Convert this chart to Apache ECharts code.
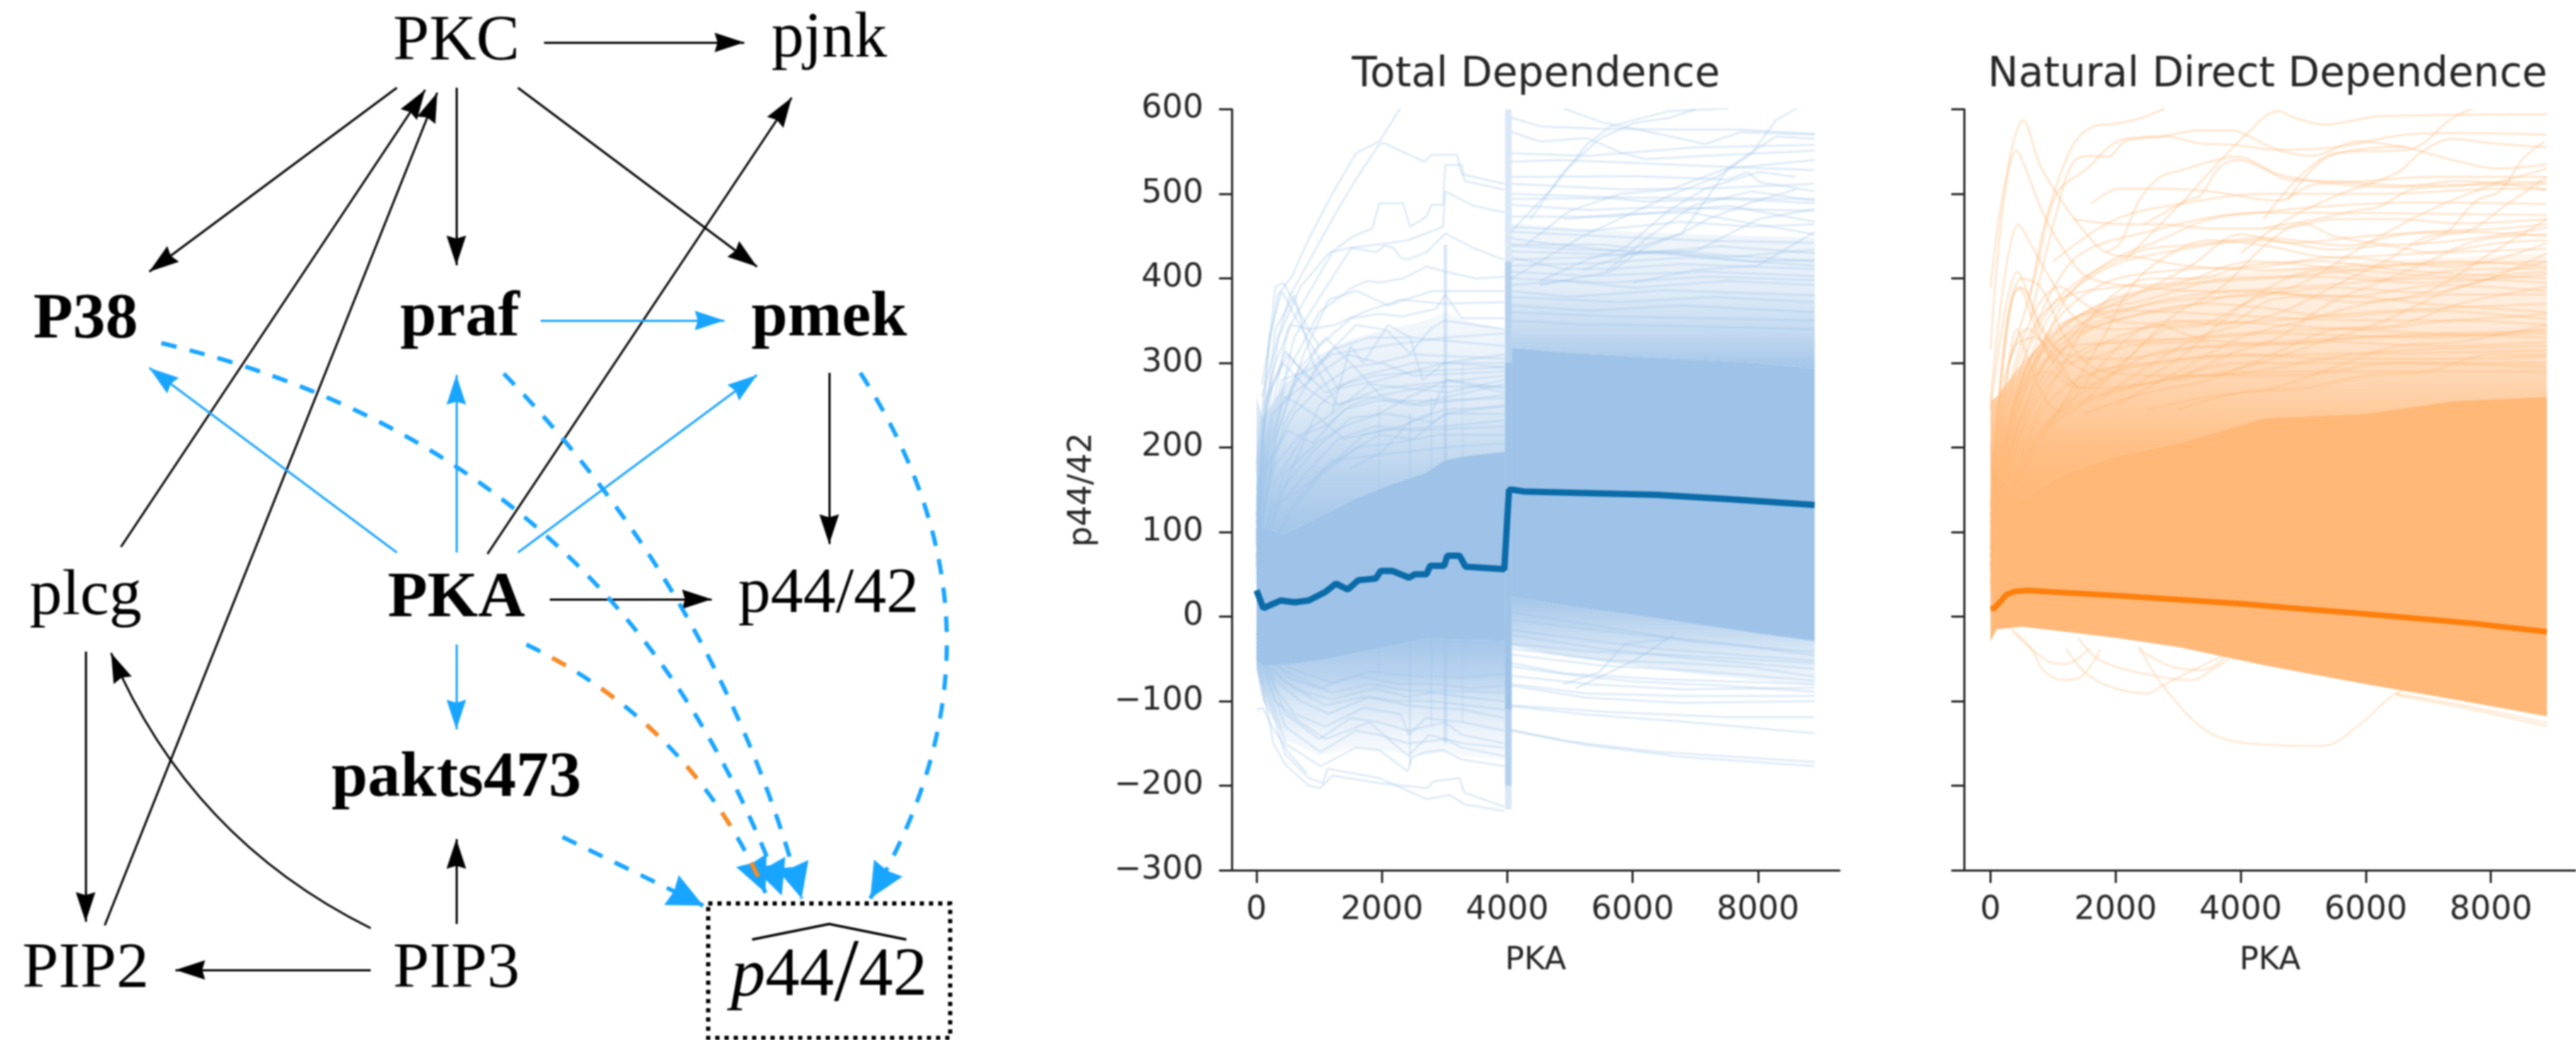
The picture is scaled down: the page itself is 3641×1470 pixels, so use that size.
<!DOCTYPE html>
<html><head><meta charset="utf-8">
<style>html,body{margin:0;padding:0;background:#fff}#c{width:3641px;height:1470px;filter:blur(0.8px)}</style>
<script src="https://cdn.jsdelivr.net/npm/echarts@6/dist/echarts.min.js"></script>
</head><body><div id="c"></div>
<script>
// ---------- diagram data ----------
const nodeNames = ['PKC','pjnk','P38','praf','pmek','plcg','PKA','p44/42','pakts473','PIP2','PIP3','phat'];
const boldNodes = ['P38','praf','pmek','PKA','pakts473'];
const nodeSpots = [[645,60],[1172,56],[121,453],[650,450],[1172,450],[121,844],[645,847],[1171,841],[645,1101],[121,1371],[645,1371],[1172,1381]];
const edgesBlack = [
 [769,60,1052,60,0],[561,124,211,384,0],[645,124,645,375,0],[732,124,1070,377,0],
 [171,773,601,127,0],[148,1308,618,131,0],[689,783,1119,138,0],[1172,527,1172,769,0],
 [777,847,1006,847,0],[121,921,121,1303,0],[524,1312,157,923,0.185],[645,1306,645,1186,0],[524,1371,248,1371,0]];
const edgesBlue = [[764,453,1024,453,0],[561,781,211,520,0],[645,781,645,530,0],[732,781,1070,530,0],[645,911,645,1031,0]];
const edgesDashed = [[228,485,1105,1266,0.27],[712,528,1133,1270,0.13],[1216,527,1230,1270,0.31],[744,911,1082,1262,0.185],[795,1183,994,1280,0]];
const edgesOrange = [[744,911,1082,1262,0.185]];
const boxOutline = [[1001,1277],[1343,1277],[1343,1467],[1001,1467],[1001,1277]];
const hatOutline = [[1063,1328],[1172,1306],[1281,1328]];

// ---------- chart axes ----------
const xTicks = [0,2000,4000,6000,8000];
const titles = ['Total Dependence','Natural Direct Dependence'];

// ---------- Total Dependence ----------
const totalMean = [[0,31],[109,10],[383,19],[609,17],[834,19],[1097,29],[1266,39],[1454,32],[1623,43],[1905,45],[1980,54],[2168,54],[2431,46],[2525,50],[2712,50],[2769,60],[2994,60],[3043,72],[3239,72],[3333,59],[3953,56],[4028,150],[4084,150],[4260,148],[6400,144],[7530,139],[8904,132]];
const totalBandLeftX = [0,100,450,1000,1585,2100,2700,3000,3350,3965];
const totalBandLeftLow = [-52,-58,-57,-52,-43,-36,-27,-27,-28,-29];
const totalBandLeftHigh = [130,105,98,118,140,155,170,185,190,195];
const totalLeftFaintHigh = [260,235,275,310,330,340,350,360,350,340];
const totalLeftFaintLow = [-62,-100,-145,-165,-155,-160,-165,-160,-165,-170];
const totalBandRightX = [4070,5000,6000,7000,8000,8904];
const totalBandRightLow = [23,12,2,-9,-20,-29];
const totalBandRightHigh = [318,312,308,304,300,294];
const totalRightFaintHigh = [465,460,455,452,450,448];
const totalRightFaintLow = [-35,-48,-58,-68,-75,-82];
// vertical streaks: from x, to x, low, high
const totalStreaks = [[2985,3040,-150,440,.4],[1940,1975,-70,250,.2],[2430,2465,-175,240,.3],[2770,2800,-130,260,.28],[3270,3300,-125,300,.22],[3965,4070,-228,600,.4],[3965,4070,-200,420,.6],[3965,4070,-110,300,1]];
const totalUpperLeft = [
 [[83,274],[346,381],[571,403],[834,447],[1209,500],[1585,548],[1960,562],[2300,602]],
 [[0,180],[300,390],[430,395],[650,365],[830,340],[1000,320]],
 [[83,260],[535,380],[1209,470],[1585,517],[1960,559],[2040,560],[2675,538],[2787,546],[3200,546],[3275,523],[3950,512]],
 [[0,170],[350,330],[700,390],[1134,428],[1547,450],[1848,459],[1960,489],[2336,489],[2449,461],[2712,473],[2787,487],[2975,487],[3012,534],[3275,534],[3320,515],[3950,505]],
 [[0,150],[500,340],[1209,431],[1472,436],[1810,439],[2148,442],[2411,445],[2975,461],[3012,503],[3460,486],[3950,478]],
 [[0,140],[600,330],[1510,436],[1923,431],[2035,439],[2186,436],[2298,425],[2411,422],[2712,431],[3012,453],[3460,436],[3950,422]],
 [[0,120],[500,290],[1000,360],[1547,390],[1770,397],[1960,395],[2336,400],[2712,414],[3012,408],[3500,400],[3950,402]],
 [[0,110],[400,250],[1000,320],[1510,353],[1960,358],[2336,355],[2862,364],[3012,381],[3275,353],[3950,353]],
 [[0,100],[450,230],[1000,300],[1585,345],[2073,339],[2449,311],[2787,341],[3000,350],[3950,340]],
 [[0,90],[150,250],[458,314],[834,280],[1209,316],[1800,330],[2500,330],[3950,320]],
 [[0,60],[120,220],[300,340],[600,380],[900,300],[1300,250],[2000,270],[3950,285]],
 [[0,120],[200,330],[400,385],[800,330],[1300,270],[2000,280],[3000,300],[3950,295]],
 [[0,80],[150,200],[400,280],[800,290],[1200,310],[2000,320],[3000,330],[3950,335]],
 [[0,70],[250,190],[600,240],[1000,270],[1500,295],[2000,300],[2500,285],[3950,290]],
 [[0,55],[300,160],[800,220],[1200,240],[1800,275],[2400,270],[3050,265],[3950,280]],
 [[0,90],[100,170],[500,220],[900,205],[1400,245],[1900,255],[2600,255],[3950,258]],
 [[0,60],[400,150],[900,195],[1500,235],[2100,240],[2800,230],[3050,240],[3950,240]],
 [[0,50],[350,130],[800,170],[1300,210],[1900,225],[2500,220],[3950,225]],
 [[0,40],[500,120],[1000,165],[1600,200],[2200,205],[2900,215],[3950,215]],
 [[0,45],[600,135],[1200,185],[1800,190],[2400,195],[3000,200],[3950,205]],
 [[0,70],[200,200],[450,260],[700,250],[1000,235],[1400,210],[2000,220],[3000,225],[3950,232]],
 [[0,100],[250,275],[500,310],[750,290],[1100,265],[1700,285],[2500,300],[3950,300]],
 [[1200,240],[1500,320],[1700,300],[2100,345],[2450,330],[2650,280],[3000,300],[3950,310]],
 [[0,65],[300,210],[650,290],[1100,330],[1500,300],[2000,260],[2600,250],[3950,262]],
 [[0,85],[300,180],[700,215],[1100,225],[1500,250],[2000,262],[2700,272],[3950,272]],
 [[0,75],[450,170],[950,205],[1400,225],[1950,240],[2500,262],[3050,280],[3950,270]],
 [[0,60],[250,130],[700,150],[1200,180],[1700,215],[2300,225],[3000,245],[3950,248]],
 [[0,130],[180,260],[420,300],[800,270],[1200,250],[1800,260],[2450,250],[3950,275]],
 [[0,110],[130,250],[300,300],[550,345],[850,340],[1250,345],[1700,360],[2300,375],[2950,370],[3950,372]],
 [[0,85],[350,220],[750,310],[1150,375],[1600,385],[2100,368],[2800,385],[3950,385]],
 [[0,95],[260,240],[600,265],[1050,290],[1450,310],[1950,300],[2500,310],[3950,305]],
 [[0,50],[400,145],[1000,250],[1400,275],[1900,285],[2600,290],[3950,295]],
 [[1500,175],[2000,195],[2440,230],[2780,240],[3020,280],[3950,265]],
 [[1000,170],[1500,195],[1960,215],[2500,210],[3000,240],[3950,250]]];
const totalLowerLeft = [
 [[0,-45],[270,-150],[458,-175],[834,-200],[1020,-203],[1209,-188],[1960,-197],[2712,-203],[2825,-195],[3237,-191],[3312,-208],[3950,-225]],
 [[0,-50],[458,-163],[834,-191],[1058,-197],[1134,-180],[1960,-191],[2712,-216],[3087,-211],[3312,-222],[3950,-230]],
 [[0,-40],[458,-150],[1020,-177],[1585,-155],[1960,-158],[2411,-183],[2487,-166],[2712,-160],[2975,-158],[3275,-169],[3950,-177]],
 [[0,-35],[458,-130],[1020,-160],[1585,-135],[1960,-140],[2411,-150],[2712,-148],[3012,-145],[3275,-155],[3950,-165]],
 [[0,-30],[458,-115],[1000,-145],[1500,-120],[1960,-125],[2411,-135],[2712,-130],[3012,-125],[3275,-140],[3950,-150]],
 [[0,-30],[300,-85],[600,-115],[1100,-130],[1700,-108],[2300,-115],[2430,-140],[2700,-120],[3300,-125],[3950,-135]],
 [[0,-25],[300,-75],[700,-100],[1150,-115],[1800,-95],[2400,-105],[2800,-108],[3300,-110],[3950,-120]],
 [[0,-25],[400,-75],[800,-90],[1200,-98],[1900,-85],[2400,-95],[2800,-90],[3300,-95],[3950,-100]],
 [[0,-20],[500,-72],[1000,-85],[1600,-70],[2300,-80],[2900,-80],[3400,-85],[3950,-82]],
 [[0,-15],[500,-60],[1200,-78],[1800,-65],[2500,-70],[3300,-72],[3950,-68]],
 [[0,-110],[100,-108],[250,-130],[500,-160],[800,-185]],
 [[0,-20],[200,-60],[600,-85],[1100,-105],[1700,-95],[2300,-100],[2800,-100],[3950,-110]],
 [[0,-18],[250,-55],[600,-70],[1200,-90],[1800,-80],[2500,-88],[3300,-88],[3950,-90]],
 [[0,-35],[300,-100],[700,-125],[1100,-145],[1800,-125],[2420,-165],[2750,-140],[3300,-150],[3950,-155]]];
const totalUpperRight = [
 [[4898,601],[5538,584],[6100,576],[7157,559],[7722,573],[8904,570]],
 [[4070,456],[4710,506],[5275,559],[5650,580],[6590,598],[7533,601]],
 [[4370,470],[4898,526],[5463,565],[6027,584],[6600,590],[7000,600]],
 [[4070,400],[5200,450],[6590,498],[7345,520],[7900,548],[8285,587],[8620,601]],
 [[4070,440],[5500,440],[6027,436],[6780,453],[7533,531],[8285,568],[8904,565]],
 [[4070,590],[4522,580],[5463,577],[6780,576],[7722,576],[8904,571]],
 [[4070,573],[4522,562],[5275,566],[5840,548],[6215,541],[7157,545],[8904,551]],
 [[4070,538],[4898,540],[6780,534],[8904,528]],
 [[4070,520],[6027,521],[7533,517],[7834,526],[8022,514],[8904,503]],
 [[4070,500],[5650,496],[6780,495],[8904,494]],
 [[4070,494],[5650,495],[6215,491],[7533,494],[8904,489]],
 [[4070,487],[5275,481],[6400,484],[8904,480]],
 [[4070,473],[5650,473],[7533,486],[8904,467]],
 [[4070,461],[5275,456],[6780,467],[7900,461],[8904,464]],
 [[4070,447],[4898,439],[6027,431],[7533,425],[8904,434]],
 [[4070,439],[5090,434],[6780,431],[8904,420]],
 [[4070,422],[5275,425],[6400,431],[7900,420],[8904,422]],
 [[4070,425],[4898,411],[5650,411],[6780,417],[8904,411]],
 [[4070,408],[5275,403],[7157,408],[8904,403]],
 [[4070,392],[4898,397],[6027,389],[7533,397],[8904,392]],
 [[4522,392],[5650,408],[6180,436],[6780,453],[7200,470],[7900,490],[8600,505]],
 [[4522,397],[5275,422],[5877,436],[6590,481],[7157,506],[8022,526],[8600,520]],
 [[5575,408],[6215,447],[6970,486],[7900,503],[8904,492]],
 [[4070,455],[5500,450],[7000,445],[8904,442]],
 [[4070,432],[5800,428],[7400,438],[8904,430]],
 [[4070,415],[5400,418],[6900,425],[8904,415]],
 [[4070,400],[5600,395],[7200,402],[8904,398]],
 [[4070,385],[5000,378],[6500,386],[8904,380]],
 [[4070,378],[5800,372],[7300,378],[8904,372]],
 [[4070,368],[5300,362],[6800,368],[8904,360]],
 [[4070,360],[5700,355],[7600,352],[8904,350]],
 [[4070,350],[5100,346],[6600,344],[8904,340]],
 [[4070,512],[5900,505],[7400,507],[8904,512]],
 [[4070,548],[5300,545],[7000,555],[8904,558]],
 [[4900,470],[5800,476],[6900,478],[8904,452]],
 [[4300,440],[5000,480],[5800,500],[6600,505],[7500,530],[8904,540]],
 [[5200,410],[6000,430],[7000,432],[8000,470],[8904,482]],
 [[6000,395],[7000,410],[8000,415],[8904,455]]];
const totalLowerRight = [
 [[4070,-135],[4898,-147],[6400,-160],[8904,-172]],
 [[4070,-134],[5275,-152],[6780,-166],[8904,-177]],
 [[4070,-106],[5275,-116],[6780,-124],[8904,-138]],
 [[4070,-105],[5650,-113],[7533,-119],[8904,-119]],
 [[4070,-82],[5275,-96],[6780,-102],[8904,-100]],
 [[4070,-80],[5275,-91],[6780,-94],[8904,-94]],
 [[4070,-59],[4898,-68],[6027,-77],[7533,-82],[8904,-89]],
 [[4070,-55],[4898,-67],[6400,-74],[8904,-80]],
 [[4070,-38],[5650,-52],[6780,-55],[7900,-60],[8904,-71]],
 [[4070,-32],[5275,-41],[6780,-46],[8904,-55]],
 [[4070,-16],[4898,-24],[6400,-38],[8904,-52]],
 [[4070,-4],[5650,-18],[7533,-32],[8904,-46]],
 [[4898,-80],[5463,-66],[5877,-32],[6560,-27]],
 [[5090,-85],[6027,-52],[6670,-21]],
 [[4070,5],[5500,-12],[7000,-30],[8904,-42]],
 [[4070,-22],[5500,-38],[7000,-50],[8904,-62]],
 [[4070,-45],[5500,-58],[7000,-64],[8904,-76]],
 [[4070,-70],[5300,-80],[6800,-86],[8904,-84]]];

// ---------- Natural Direct Dependence ----------
const naturalMean = [[0,9],[60,10],[150,17],[250,26],[400,30],[600,31],[1000,29],[2189,24],[3000,20],[4025,15],[5000,9],[5864,4],[7700,-8],[8897,-18]];
const naturalBandX = [0,100,500,1200,2000,3000,4400,6000,7400,8896];
const naturalBandLow = [-29,-15,-12,-18,-25,-36,-58,-80,-98,-118];
const naturalBandHigh = [213,170,140,170,190,205,235,240,255,260];
const naturalFaintHigh = [255,260,300,350,380,400,410,420,425,430];
const naturalUpper = [
 [[0,389],[200,500],[526,587],[790,534],[1054,501],[1318,473],[1846,431],[2374,425],[3127,415],[4400,410],[6000,415],[8896,420]],
 [[0,316],[413,551],[865,473],[1280,422],[1600,400],[2400,390],[3500,385],[5000,390],[7000,400],[8896,395]],
 [[0,255],[450,464],[676,436],[977,397],[1400,350],[2000,340],[3000,345],[4500,350],[6000,360],[8896,370]],
 [[0,244],[430,408],[563,389],[800,340],[1200,310],[2000,305],[3500,320],[6000,330],[8896,335]],
 [[639,381],[865,464],[1129,526],[1356,562],[1620,579],[1997,583],[2374,589],[2787,601]],
 [[639,353],[1054,478],[1318,537],[1620,545],[1884,544],[2148,562],[2750,568],[3316,575],[3882,575],[4071,570],[4600,552],[5126,545],[5880,562],[6634,555],[7388,540],[8142,530],[8896,535]],
 [[300,300],[700,400],[1054,500],[1544,530],[1900,556],[2148,565],[2800,568],[3316,560],[3882,558],[4600,552],[5500,555],[6634,570],[7388,572],[8896,570]],
 [[1620,489],[2073,506],[2750,506],[3505,503],[4600,492],[5126,510],[6000,515],[7000,520],[8896,520]],
 [[1846,431],[2073,442],[2374,492],[2712,520],[3052,528],[3656,541],[3958,544],[4372,531],[4748,517],[5500,515],[6634,510],[8896,512]],
 [[2148,422],[3127,495],[3505,526],[4071,569],[4600,598],[4860,590],[5353,582],[6257,592],[8896,594]],
 [[2450,464],[3127,492],[3354,498],[3656,531],[3958,540],[4600,523],[5500,512],[6500,508],[7500,515],[8896,505]],
 [[1318,470],[2148,464],[2750,464],[3505,459],[4600,459],[5500,470],[6500,470],[7500,465],[8896,470]],
 [[4372,470],[5503,548],[6709,553],[7388,590],[7690,600]],
 [[4748,492],[5428,545],[6634,556]],
 [[4000,430],[4748,470],[5600,500],[6500,525],[6900,550],[7388,565],[8000,560],[8896,555]],
 [[6800,440],[7300,455],[7766,492],[8142,503],[8519,542],[8858,562]],
 [[4372,460],[5200,470],[5880,481],[6190,484],[6784,506],[7388,509],[8142,514],[8896,514]],
 [[1000,420],[2000,470],[3200,490],[4372,500],[6257,500],[8142,506],[8896,505]],
 [[500,300],[1300,420],[2500,455],[4372,478],[8896,475]],
 [[300,250],[1000,370],[2300,430],[3300,440],[4372,448],[5692,439],[6634,453],[8142,459],[8896,464]],
 [[200,200],[900,350],[1800,410],[3100,435],[4372,445],[5503,434],[6257,439],[7011,431],[8142,442],[8896,445]],
 [[100,120],[800,320],[1700,390],[3000,410],[4372,414],[5503,425],[7388,414],[8896,442]],
 [[150,170],[700,300],[1500,360],[2800,390],[4372,400],[5600,408],[7388,420],[8896,414]],
 [[100,110],[600,260],[1300,340],[2600,370],[4372,381],[5503,389],[7011,383],[8142,403],[8896,408]],
 [[250,180],[800,280],[1600,340],[3000,365],[4372,383],[5880,372],[7388,381],[8896,381]],
 [[120,130],[500,240],[1100,320],[2000,350],[3500,370],[4400,365],[5500,355],[7000,362],[8896,352]],
 [[0,50],[300,170],[700,250],[1300,300],[2200,335],[3400,350],[4600,345],[6000,340],[7500,350],[8896,345]],
 [[0,70],[250,190],[650,280],[1300,320],[2500,325],[4000,335],[5500,340],[7000,335],[8896,330]],
 [[0,40],[350,150],[900,230],[1700,275],[2800,315],[4000,320],[5500,325],[7000,320],[8896,325]],
 [[0,60],[200,170],[500,270],[900,290],[1400,270],[2000,290],[3200,305],[5000,310],[7000,312],[8896,315]],
 [[0,90],[300,300],[600,340],[1000,310],[1500,270],[2500,275],[4000,300],[6000,300],[8896,300]],
 [[0,120],[250,330],[500,400],[800,390],[1200,330],[1800,290],[3000,285],[5000,290],[8896,290]],
 [[0,80],[300,270],[700,360],[1100,390],[1500,370],[2000,350],[2700,345],[3400,330],[4500,335],[7000,330],[8896,340]],
 [[800,210],[1300,270],[1800,330],[2300,395],[2900,430],[3500,445],[4300,440],[5500,425],[7000,430],[8896,435]],
 [[600,220],[1100,290],[1800,370],[2600,400],[3300,400],[4100,415],[5300,420],[6500,410],[8896,400]],
 [[900,220],[1500,280],[2100,300],[2900,355],[3700,390],[4400,440],[5000,465],[5500,450],[6500,440],[8896,460]],
 [[1300,240],[2000,290],[2800,340],[3400,345],[4200,375],[5000,395],[6000,440],[7000,480],[8000,510],[8896,530]],
 [[1800,260],[2500,295],[3300,330],[4000,345],[4800,365],[5600,395],[6300,420],[7000,450],[7600,455],[8300,490],[8896,520]],
 [[2000,250],[3000,290],[4000,330],[5000,350],[6000,370],[7000,385],[8000,430],[8896,470]],
 [[1500,240],[2500,265],[3500,280],[4500,310],[5500,340],[6500,345],[7500,370],[8896,390]],
 [[2500,245],[3500,260],[4500,270],[5500,295],[6500,320],[7500,325],[8896,345]],
 [[3000,245],[4000,265],[5000,270],[6000,285],[7000,290],[8000,310],[8896,310]],
 [[0,100],[180,260],[400,320],[700,330],[1100,300],[1600,305],[2200,320],[3500,325]],
 [[0,55],[120,180],[250,270],[420,340],[620,300],[950,250],[1300,240]],
 [[0,70],[300,230],[800,310],[1600,345],[2800,375],[4200,385],[5600,378],[7200,392],[8896,385]],
 [[0,60],[200,190],[600,300],[1400,355],[2500,375],[3800,400],[5200,402],[6800,395],[8896,405]],
 [[0,80],[400,290],[1000,370],[2000,390],[3000,395],[4200,420],[5800,410],[7500,402],[8896,420]],
 [[100,140],[500,280],[1100,345],[2200,362],[3500,358],[5000,352],[7000,350],[8896,358]],
 [[0,45],[450,210],[1000,290],[1900,325],[3100,328],[4500,322],[6200,332],[8896,338]],
 [[0,40],[300,140],[800,240],[1500,285],[2600,300],[4000,310],[5500,305],[7500,305],[8896,308]],
 [[0,35],[400,160],[1000,235],[1700,262],[2800,280],[4200,290],[6000,312],[8896,320]],
 [[0,30],[500,170],[1200,240],[2200,270],[3400,285],[4800,285],[6500,300],[8896,295]],
 [[0,130],[180,300],[350,380],[500,388],[800,345],[1200,305],[1800,280]],
 [[0,110],[150,260],[300,360],[450,390],[700,345],[1000,300],[1400,270]],
 [[1200,245],[1800,300],[2400,340],[3000,350],[3700,345],[4500,375],[5500,380],[7000,370],[8896,360]],
 [[2200,270],[3000,305],[3800,355],[4600,395],[5300,410],[6300,400],[7500,410],[8896,412]],
 [[3000,280],[3800,310],[4600,330],[5400,370],[6200,395],[7000,420],[7800,445],[8896,452]],
 [[3500,285],[4300,300],[5300,325],[6300,350],[7300,385],[8000,400],[8896,430]],
 [[1000,300],[1600,355],[2300,380],[3200,415],[4000,452],[4800,442],[6000,450],[7500,455],[8896,450]],
 [[700,290],[1200,375],[1900,420],[2700,445],[3500,470],[4300,478],[5300,485],[6800,490],[8896,488]]];
const naturalLower = [
 [[2370,-35],[2738,-80],[3412,-133],[4025,-149],[5312,-153],[5864,-130],[6477,-91],[6900,-82]],
 [[300,-12],[654,-38],[837,-63],[1143,-75],[1450,-71],[1757,-38]],
 [[347,-18],[899,-52],[1206,-56],[1574,-38]],
 [[1206,-38],[1512,-66],[1880,-82],[2493,-91],[2738,-82],[3167,-66],[3720,-46]],
 [[1400,-25],[1757,-52],[2677,-71],[3229,-75],[3536,-63],[3904,-46]],
 [[2370,-38],[2922,-60],[3412,-63],[3780,-46]],
 [[6477,-93],[7703,-110],[8897,-130]],
 [[6477,-91],[7703,-107],[8897,-126]]];

// ---------- helpers ----------
const BLUE='#9fc3e8', ORANGE='#ffb878', DARKBLUE='#0a6ba9', DARKORANGE='#fe7f0c', INK='#262626';
const BLUE_RGB='159,195,232', ORANGE_RGB='255,184,120';
const EDGE_BLUE='#18a5ff', EDGE_ORANGE='#ff8a1c';
const headBlack='path://M0 0L0 0M200 200L200 200M100 100L133 200L100 190L67 200Z';
const headWide='path://M0 0L0 0M200 200L200 200M100 100L147 200L100 192L53 200Z';
function fade(rgb,stops){
  return new echarts.graphic.LinearGradient(0,0,0,1,stops.map(s=>({offset:s[0],color:'rgba('+rgb+','+s[1]+')'})));
}
function band(axis,xs,lo,hi,fill,opacity){
  return [{type:'custom',coordinateSystem:'cartesian2d',xAxisIndex:axis,yAxisIndex:axis,silent:true,animation:false,clip:true,
    data:xs.map((x,i)=>[x,lo[i],hi[i]]),encode:{x:0,y:[1,2]},
    renderItem:(params,api)=>{
      if(params.dataIndex!==0) return null;
      const top=xs.map((x,i)=>api.coord([x,hi[i]]));
      const bot=xs.map((x,i)=>api.coord([x,lo[i]])).reverse();
      return {type:'polygon',shape:{points:top.concat(bot)},style:{fill,opacity:opacity==null?1:opacity}};
    }}];
}
function faint(axis,lines,color,smooth){
  return lines.map(d=>({type:'line',xAxisIndex:axis,yAxisIndex:axis,data:d,showSymbol:false,silent:true,animation:false,
    smooth:smooth?0.35:false,lineStyle:{color,width:3}}));
}
function edgeSeries(list,color,width,head,size,dash,offset){
  return {type:'lines',coordinateSystem:'cartesian2d',xAxisIndex:2,yAxisIndex:2,silent:true,animation:false,clip:false,
    symbol:head?['none',head]:'none',symbolSize:size||0,
    lineStyle:{color,width,opacity:1,type:dash||'solid',dashOffset:offset||0},
    data:list.map(e=>({coords:[[e[0],e[1]],[e[2],e[3]]],lineStyle:{curveness:e[4]}}))};
}
function outline(coords,width,dash){
  return {type:'lines',coordinateSystem:'cartesian2d',xAxisIndex:2,yAxisIndex:2,polyline:true,silent:true,animation:false,clip:false,
    lineStyle:{color:'#000',width,opacity:1,type:dash||'solid'},data:[{coords}]};
}
const minusSign=v=>String(v).replace('-','\u2212');
function xAxisFor(idx,min,max){
  return {type:'value',gridIndex:idx,min,max,name:'PKA',nameLocation:'middle',nameGap:106,
    nameTextStyle:{fontFamily:'DejaVu Sans',fontSize:45,color:INK},
    axisLine:{onZero:false,lineStyle:{color:INK,width:3}},
    axisTick:{show:true,length:18,lineStyle:{color:INK,width:3},customValues:xTicks},
    axisLabel:{fontFamily:'DejaVu Sans',fontSize:46,color:INK,margin:34,customValues:xTicks,formatter:v=>String(v)},splitLine:{show:false}};
}
function yAxisFor(idx,showLabels){
  return {type:'value',gridIndex:idx,min:-300,max:600,interval:100,name:showLabels?'p44/42':'',nameLocation:'middle',nameGap:188,
    nameTextStyle:{fontFamily:'DejaVu Sans',fontSize:46,color:INK},
    axisLine:{show:true,onZero:false,lineStyle:{color:INK,width:3}},
    axisTick:{show:true,length:18,lineStyle:{color:INK,width:3}},
    axisLabel:{show:showLabels,fontFamily:'DejaVu Sans',fontSize:46,color:INK,margin:40,formatter:minusSign},splitLine:{show:false}};
}

// ---------- series ----------
const series=[];
series.push(...band(0,totalBandLeftX,totalBandLeftHigh,totalLeftFaintHigh,fade(BLUE_RGB,[[0,.1],[.4,.32],[.75,.74],[1,.95]])));
series.push(...band(0,totalBandLeftX,totalLeftFaintLow,totalBandLeftLow,fade(BLUE_RGB,[[0,.95],[.3,.72],[.5,.42],[.8,.16],[1,.06]])));
series.push(...faint(0,totalUpperLeft,'rgba(159,195,232,.32)',false));
series.push(...faint(0,totalLowerLeft,'rgba(159,195,232,.32)',false));
series.push(...band(0,totalBandRightX,totalBandRightHigh,totalRightFaintHigh,fade(BLUE_RGB,[[0,.12],[.45,.3],[.75,.62],[1,.95]])));
series.push(...band(0,totalBandRightX,totalRightFaintLow,totalBandRightLow,fade(BLUE_RGB,[[0,.95],[.4,.6],[.7,.3],[1,.1]])));
series.push(...faint(0,totalUpperRight,'rgba(159,195,232,.32)',false));
series.push(...faint(0,totalLowerRight,'rgba(159,195,232,.32)',false));
totalStreaks.forEach(k=>series.push(...band(0,[k[0],k[1]],[k[2],k[2]],[k[3],k[3]],BLUE,k[4])));
series.push(...band(0,totalBandLeftX,totalBandLeftLow,totalBandLeftHigh,BLUE));
series.push(...band(0,totalBandRightX,totalBandRightLow,totalBandRightHigh,BLUE));
series.push({type:'line',xAxisIndex:0,yAxisIndex:0,data:totalMean,showSymbol:false,silent:true,animation:false,z:5,lineStyle:{color:DARKBLUE,width:9}});

series.push(...band(1,naturalBandX,naturalBandHigh,naturalFaintHigh,fade(ORANGE_RGB,[[0,.12],[.3,.3],[.55,.62],[.8,.9],[1,1]])));
series.push(...faint(1,naturalUpper,'rgba(255,184,120,.34)',true));
series.push(...faint(1,naturalLower,'rgba(255,184,120,.3)',true));
series.push(...band(1,naturalBandX,naturalBandLow,naturalBandHigh,ORANGE));
series.push({type:'line',xAxisIndex:1,yAxisIndex:1,data:naturalMean,showSymbol:false,silent:true,animation:false,z:5,lineStyle:{color:DARKORANGE,width:8}});

series.push(edgeSeries(edgesBlack,'#000',3,headBlack,84));
series.push(edgeSeries(edgesBlue,EDGE_BLUE,3,headBlack,84));
series.push(edgeSeries(edgesDashed,EDGE_BLUE,6,headWide,100,[22,19]));
series.push(edgeSeries(edgesOrange,EDGE_ORANGE,6,null,0,[22,60],-41));
series.push(outline(boxOutline,6,[6,7]));
series.push(outline(hatOutline,3.5));
series.push({type:'scatter',xAxisIndex:2,yAxisIndex:2,symbolSize:1,silent:true,animation:false,itemStyle:{color:'rgba(0,0,0,0)',opacity:1},z:6,
  data:nodeNames.map((n,i)=>({value:nodeSpots[i],name:n})),
  label:{show:true,position:'inside',opacity:1,fontFamily:'Liberation Serif',fontSize:92,color:'#000',
    formatter:p=>p.name==='phat'?'{i|p}{h|44}{s|/}{h|42}':(boldNodes.includes(p.name)?'{b|'+p.name+'}':'{r|'+p.name+'}'),
    rich:{
      r:{fontFamily:'Liberation Serif',fontSize:92,color:'#000'},
      h:{fontFamily:'Liberation Serif',fontSize:97,color:'#000'},
      b:{fontFamily:'Liberation Serif',fontSize:92,fontWeight:'bold',color:'#000'},
      i:{fontFamily:'Liberation Serif',fontSize:97,fontStyle:'italic',color:'#000'},
      s:{fontFamily:'Liberation Serif',fontSize:126,color:'#000'}
    }}});

const chart=echarts.init(document.getElementById('c'),null,{renderer:'canvas'});
chart.setOption({
  animation:false,backgroundColor:'#fff',
  title:[
    {text:titles[0],left:2166,top:73,textAlign:'center',textStyle:{fontFamily:'DejaVu Sans',fontWeight:'normal',fontSize:58,color:INK}},
    {text:titles[1],left:3200,top:73,textAlign:'center',textStyle:{fontFamily:'DejaVu Sans',fontWeight:'normal',fontSize:58,color:INK}}],
  grid:[
    {left:1741,top:154.5,width:859,height:1075.5},
    {left:2776,top:154.5,width:865,height:1075.5},
    {left:0,top:0,width:1450,height:1470}],
  xAxis:[xAxisFor(0,-395,9300),xAxisFor(1,-424,9361),{type:'value',gridIndex:2,min:0,max:1450,show:false}],
  yAxis:[yAxisFor(0,true),yAxisFor(1,false),{type:'value',gridIndex:2,min:0,max:1470,inverse:true,show:false}],
  series
});
</script></body></html>
